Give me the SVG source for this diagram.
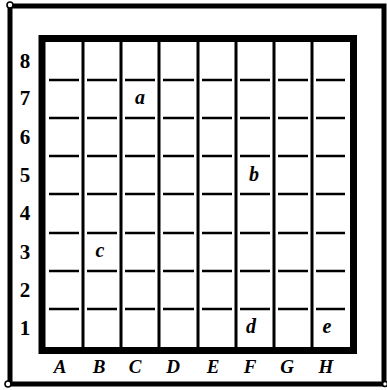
<svg xmlns="http://www.w3.org/2000/svg" xmlns:xlink="http://www.w3.org/1999/xlink" width="387" height="390" viewBox="0 0 387 390">
<style>
.frame{fill:none;stroke:#000;stroke-width:5;stroke-linecap:square}
.board{fill:none;stroke:#000;stroke-width:7}
.file{stroke:#000;stroke-width:3}
.rank{stroke:#000;stroke-width:2.6}
.ring{fill:#fff;stroke:#000;stroke-width:1.6}
.num{font-family:"Liberation Serif","DejaVu Serif",serif;font-weight:bold;font-size:21px;text-anchor:middle;fill:#000}
.let{font-family:"Liberation Serif","DejaVu Serif",serif;font-weight:bold;font-style:italic;font-size:19px;text-anchor:middle;fill:#000}
.pc{font-family:"Liberation Serif","DejaVu Serif",serif;font-weight:bold;font-style:italic;font-size:20px;text-anchor:middle;fill:#000}
</style>
<defs>
<path id="dashrow" class="rank" d="M49 0H79M87 0H117M125 0H155M163 0H194M202 0H232M240 0H270M278 0H308M316 0H345"/>
</defs>
<rect width="387" height="390" fill="#fff"/>
<g id="outer-frame">
<path class="frame" d="M15 6H384V384H13M10 10V380"/>
<circle class="ring" cx="10" cy="5" r="3"/>
<circle class="ring" cx="8" cy="384" r="3"/>
<circle class="ring" cx="385" cy="384" r="2.5"/>
</g>
<g id="board">
<rect class="board" x="42" y="38.5" width="311.5" height="312"/>
<path class="file" d="M83 42V347M121 42V347M159 42V347M198 42V347M236 42V347M274 42V347M312 42V347"/>
<use xlink:href="#dashrow" y="80"/>
<use xlink:href="#dashrow" y="118"/>
<use xlink:href="#dashrow" y="156"/>
<use xlink:href="#dashrow" y="194"/>
<use xlink:href="#dashrow" y="233"/>
<use xlink:href="#dashrow" y="271"/>
<use xlink:href="#dashrow" y="309"/>
</g>
<g id="rank-labels">
<text class="num" x="25" y="68">8</text>
<text class="num" x="25" y="105">7</text>
<text class="num" x="25" y="144">6</text>
<text class="num" x="25" y="182">5</text>
<text class="num" x="25" y="220">4</text>
<text class="num" x="25" y="259">3</text>
<text class="num" x="25" y="297">2</text>
<text class="num" x="25" y="335">1</text>
</g>
<g id="file-labels">
<text class="let" x="60" y="373">A</text>
<text class="let" x="99" y="373">B</text>
<text class="let" x="135" y="373">C</text>
<text class="let" x="173" y="373">D</text>
<text class="let" x="213" y="373">E</text>
<text class="let" x="250" y="373">F</text>
<text class="let" x="287" y="373">G</text>
<text class="let" x="326" y="373">H</text>
</g>
<g id="piece-a"><text class="pc" x="140" y="104">a</text></g>
<g id="piece-b"><text class="pc" x="254" y="181">b</text></g>
<g id="piece-c"><text class="pc" x="100" y="257">c</text></g>
<g id="piece-d"><text class="pc" x="251" y="333">d</text></g>
<g id="piece-e"><text class="pc" x="327" y="333">e</text></g>
</svg>
